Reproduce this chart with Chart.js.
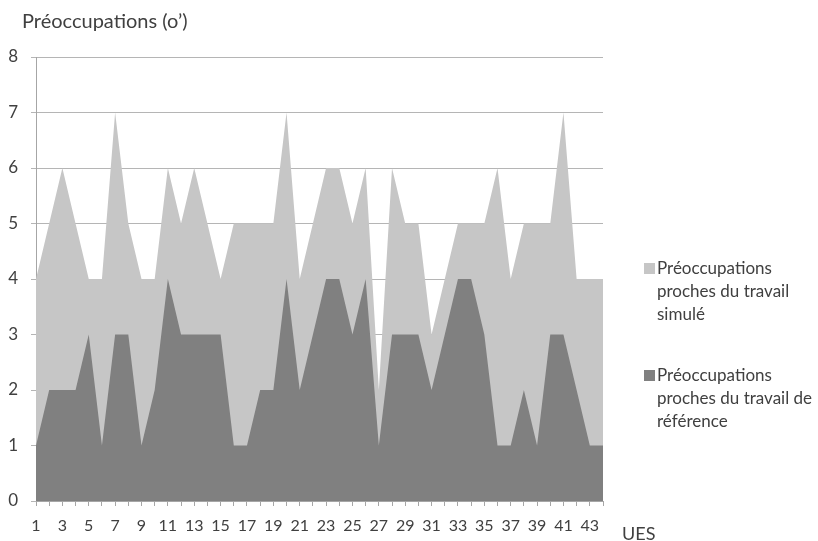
<!DOCTYPE html>
<html>
<head>
<meta charset="utf-8">
<script src="https://cdn.jsdelivr.net/npm/chart.js@4.4.0/dist/chart.umd.min.js"></script>
<style>
    html, body { margin: 0; padding: 0; background: #fff; }
</style>
</head>
<body>
<canvas id="chart" width="818" height="541"></canvas>
<script>
// UES numbers (1..44, only odd ones are labelled on the axis)
const ues = ['1', '2', '3', '4', '5', '6', '7', '8', '9', '10',
    '11', '12', '13', '14', '15', '16', '17', '18', '19', '20',
    '21', '22', '23', '24', '25', '26', '27', '28', '29', '30',
    '31', '32', '33', '34', '35', '36', '37', '38', '39', '40',
    '41', '42', '43', '44'];

// light grey area (drawn behind)
const simule = [4, 5, 6, 5, 4, 4, 7, 5, 4, 4,
    6, 5, 6, 5, 4, 5, 5, 5, 5, 7,
    4, 5, 6, 6, 5, 6, 2, 6, 5, 5,
    3, 4, 5, 5, 5, 6, 4, 5, 5, 5,
    7, 4, 4, 4];

// dark grey area (drawn in front)
const reference = [1, 2, 2, 2, 3, 1, 3, 3, 1, 2,
    4, 3, 3, 3, 3, 1, 1, 2, 2, 4,
    2, 3, 4, 4, 3, 4, 1, 3, 3, 3,
    2, 3, 4, 4, 3, 1, 1, 2, 1, 3,
    3, 2, 1, 1];

const yTicks = [0, 1, 2, 3, 4, 5, 6, 7, 8];

const yTitle = 'Préoccupations (o’)';
const xTitle = 'UES';
const seriesNames = ['Préoccupations proches du travail simulé', 'Préoccupations proches du travail de référence'];

const LIGHT = '#c6c6c6';
const DARK = '#808080';
const TEXT = '#404040';
const FONT = 'Lato, "Open Sans", sans-serif';

function wrapText(ctx, text, maxWidth) {
    const words = text.split(' ');
    let lines = [];
    let line = '';
    words.forEach(function (w) {
        const test = line ? line + ' ' + w : w;
        if (ctx.measureText(test).width > maxWidth && line) {
            lines.push(line);
            line = w;
        } else {
            line = test;
        }
    });
    if (line) lines.push(line);
    return lines;
}

// axis titles and the wrapped legend on the right
const decorations = {
    id: 'decorations',
    afterDraw(chart) {
        const ctx = chart.ctx;
        ctx.save();
        ctx.fillStyle = TEXT;
        ctx.textBaseline = 'middle';
        ctx.font = '20px ' + FONT;
        ctx.fillText(yTitle, 22, 22);
        ctx.font = '18px ' + FONT;
        ctx.fillText(xTitle, 622, 534);

        ctx.font = '17px ' + FONT;
        let y = 268;
        chart.data.datasets.forEach(function (ds) {
            ctx.fillStyle = ds.backgroundColor;
            ctx.fillRect(644, y - 5, 11, 11);
            ctx.fillStyle = TEXT;
            const lines = wrapText(ctx, ds.label, 158);
            lines.forEach(function (l, i) {
                ctx.fillText(l, 657, y + 1 + i * 23);
            });
            y += 107;
        });
        ctx.restore();
    }
};

new Chart(document.getElementById('chart'), {
    type: 'line',
    data: {
        labels: ues,
        datasets: [
            {
                label: seriesNames[0],
                data: simule,
                backgroundColor: LIGHT,
                borderColor: 'rgba(0,0,0,0)',
                borderWidth: 0,
                pointRadius: 0,
                fill: 'origin',
                order: 2
            },
            {
                label: seriesNames[1],
                data: reference,
                backgroundColor: DARK,
                borderColor: 'rgba(0,0,0,0)',
                borderWidth: 0,
                pointRadius: 0,
                fill: 'origin',
                order: 1
            }
        ]
    },
    options: {
        responsive: false,
        animation: false,
        layout: {
            padding: { top: 57, right: 215, bottom: 0, left: 0 }
        },
        elements: {
            line: { tension: 0 }
        },
        scales: {
            x: {
                offset: false,
                grid: {
                    drawOnChartArea: false,
                    drawTicks: true,
                    tickLength: 5,
                    color: '#a6a6a6'
                },
                border: { color: '#a6a6a6' },
                ticks: {
                    autoSkip: false,
                    maxRotation: 0,
                    color: TEXT,
                    padding: 10,
                    font: { family: FONT, size: 16 },
                    callback: function (val, index) {
                        return index % 2 === 0 ? this.getLabelForValue(val) : '';
                    }
                },
                afterFit: function (scale) { scale.height = 40; }
            },
            y: {
                min: yTicks[0],
                max: yTicks[yTicks.length - 1],
                afterBuildTicks: function (scale) {
                    scale.ticks = yTicks.map(function (v) { return { value: v }; });
                },
                grid: {
                    color: '#b5b5b5',
                    tickLength: 5
                },
                border: { color: '#a6a6a6' },
                ticks: {
                    color: TEXT,
                    padding: 13,
                    font: { family: FONT, size: 17 }
                },
                afterFit: function (scale) { scale.width = 36; }
            }
        },
        plugins: {
            legend: { display: false },
            tooltip: { enabled: false }
        }
    },
    plugins: [decorations]
});
</script>
</body>
</html>
